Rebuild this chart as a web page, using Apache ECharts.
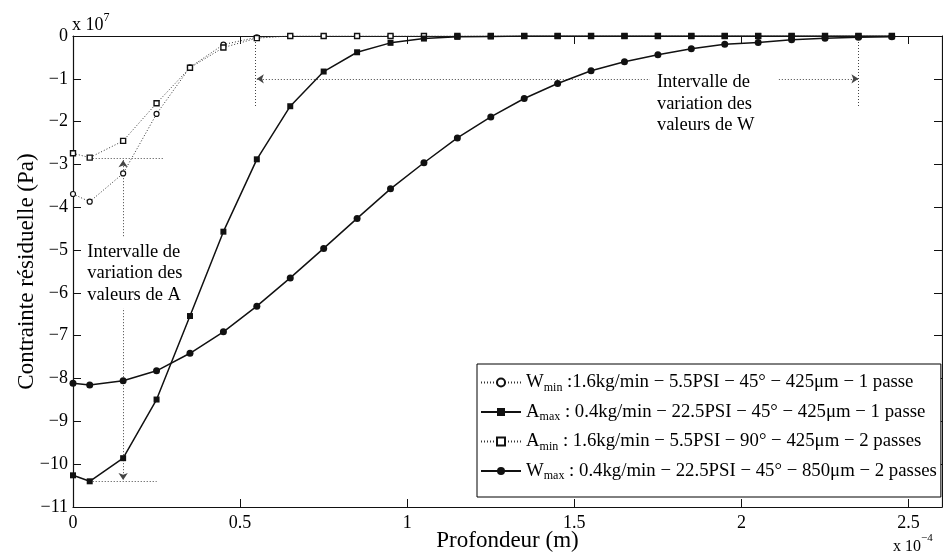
<!DOCTYPE html>
<html>
<head>
<meta charset="utf-8">
<script src="https://cdn.jsdelivr.net/npm/echarts@6/dist/echarts.min.js"></script>
<style>
  html, body { margin: 0; padding: 0; background: #fff; }
  #chart { width: 943px; height: 558px; }
</style>
</head>
<body>
<div id="chart"></div>
<script>
// Depth (x 1e-4 m) and residual stress (x 1e7 Pa)
const depth = [0, 0.05, 0.15, 0.25, 0.35, 0.45, 0.55, 0.65, 0.75, 0.85, 0.95, 1.05, 1.15,
               1.25, 1.35, 1.45, 1.55, 1.65, 1.75, 1.85, 1.95, 2.05, 2.15, 2.25, 2.35, 2.45];

const wMin = [-3.69, -3.87, -3.21, -1.82, -0.73, -0.20, -0.03, 0, 0, 0, 0, 0, 0,
              0, 0, 0, 0, 0, 0, 0, 0, 0, 0, 0, 0, 0];
const aMax = [-10.26, -10.40, -9.86, -8.49, -6.54, -4.57, -2.88, -1.64, -0.83, -0.38, -0.16, -0.06, -0.02,
              -0.01, 0, 0, 0, 0, 0, 0, 0, 0, 0, 0, 0, 0];
const aMin = [-2.74, -2.84, -2.45, -1.57, -0.74, -0.27, -0.05, 0, 0, 0, 0, 0, 0,
              0, 0, 0, 0, 0, 0, 0, 0, 0, 0, 0, 0, 0];
const wMax = [-8.11, -8.15, -8.05, -7.82, -7.41, -6.91, -6.31, -5.65, -4.96, -4.26, -3.57, -2.96, -2.38,
              -1.89, -1.46, -1.11, -0.81, -0.60, -0.44, -0.30, -0.19, -0.15, -0.09, -0.05, -0.03, -0.02];

const seriesNames = ['Wmin', 'Amax', 'Amin', 'Wmax'];
const legendLabels = {
  Wmin: '{m|W}{s|min}{m| :1.6kg/min − 5.5PSI − 45° − 425μm − 1 passe}',
  Amax: '{m|A}{s|max}{m| : 0.4kg/min − 22.5PSI − 45° − 425μm − 1 passe}',
  Amin: '{m|A}{s|min}{m| : 1.6kg/min − 5.5PSI − 90° − 425μm − 2 passes}',
  Wmax: '{m|W}{s|max}{m| : 0.4kg/min − 22.5PSI − 45° − 850μm − 2 passes}'
};

// Range indicators: [start, end] in data units
const aRangeArrow = [[0.15, -2.9], [0.15, -10.37]];
const aRangeTop = [[0.05, -2.85], [0.27, -2.85]];
const aRangeBottom = [[0.05, -10.4], [0.25, -10.4]];
const wRangeArrow = [[0.55, -1.0], [2.35, -1.0]];
const wRangeLeft = [[0.545, 0], [0.545, -1.65]];
const wRangeRight = [[2.35, 0], [2.35, -1.65]];

const aNote = ['Intervalle de', 'variation des', 'valeurs de A'];
const wNote = ['Intervalle de', 'variation des', 'valeurs de W'];
const aNoteAt = [0.025, -4.72];
const wNoteAt = [1.726, -0.79];

const FONT = 'Liberation Serif';
const INK = '#111';

function pairs(ys) { return depth.map((x, i) => [x, ys[i]]); }
function minusLabel(v) { return v === 0 ? '0' : '−' + Math.abs(v); }

const dotted = { type: [1, 2], width: 1, color: '#333' };

function guide(p, arrowStart, arrowEnd) {
  return [
    { coord: p[0], symbol: arrowStart ? 'arrow' : 'none' },
    { coord: p[1], symbol: arrowEnd ? 'arrow' : 'none' }
  ];
}

const chart = echarts.init(document.getElementById('chart'), null, { renderer: 'canvas' });

function axisCommon() {
  return {
    axisLine: { show: true, onZero: false, lineStyle: { color: INK, width: 1.2 } },
    axisTick: { show: true, inside: true, length: 8, lineStyle: { color: INK, width: 1 } },
    splitLine: { show: false }
  };
}

chart.setOption({
  animation: false,
  backgroundColor: '#fff',
  textStyle: { fontFamily: FONT },
  grid: { left: 73, right: 1, top: 36, bottom: 51, containLabel: false, outerBoundsMode: 'none' },
  xAxis: [
    Object.assign({
      type: 'value', min: 0, max: 2.6, interval: 0.5, position: 'bottom',
      name: 'Profondeur (m)', nameLocation: 'middle', nameGap: 22, nameMoveOverlap: false,
      nameTextStyle: { fontFamily: FONT, fontSize: 23, color: '#000' },
      axisLabel: {
        fontFamily: FONT, fontSize: 18, color: '#000', margin: 7, showMaxLabel: false,
        formatter: v => (Math.abs(v * 2 - Math.round(v * 2)) < 1e-6 && v <= 2.5) ? String(v) : ''
      }
    }, axisCommon()),
    Object.assign({
      type: 'value', min: 0, max: 2.6, interval: 0.5, position: 'top',
      axisLabel: { show: false }
    }, axisCommon())
  ],
  yAxis: [
    Object.assign({
      type: 'value', min: -11, max: 0, interval: 1, position: 'left',
      name: 'Contrainte résiduelle (Pa)', nameLocation: 'middle', nameGap: 35, nameMoveOverlap: false,
      nameTextStyle: { fontFamily: FONT, fontSize: 23, color: '#000' },
      axisLabel: { fontFamily: FONT, fontSize: 18, color: '#000', margin: 5, formatter: minusLabel }
    }, axisCommon()),
    Object.assign({
      type: 'value', min: -11, max: 0, interval: 1, position: 'right',
      axisLabel: { show: false }
    }, axisCommon())
  ],
  legend: {
    orient: 'vertical', left: 477, top: 364,
    data: seriesNames,
    formatter: name => legendLabels[name],
    itemWidth: 40, itemHeight: 10, itemGap: 9,
    padding: [9, 4, 15, 3],
    borderColor: '#000', borderWidth: 1, borderRadius: 0,
    backgroundColor: '#fff',
    textStyle: {
      fontFamily: FONT, fontSize: 18.8, color: '#000',
      rich: {
        m: { fontFamily: FONT, fontSize: 18.8, color: '#000', lineHeight: 22 },
        s: { fontFamily: FONT, fontSize: 12, color: '#000', lineHeight: 6, verticalAlign: 'bottom' }
      }
    }
  },
  series: [
    {
      name: 'Wmin', type: 'line', data: pairs(wMin),
      symbol: 'circle', symbolSize: 5,
      itemStyle: { color: '#fff', borderColor: INK, borderWidth: 1.2 },
      lineStyle: dotted, z: 3
    },
    {
      name: 'Amax', type: 'line', data: pairs(aMax),
      symbol: 'rect', symbolSize: 6,
      itemStyle: { color: INK, borderColor: INK, borderWidth: 0 },
      lineStyle: { type: 'solid', width: 1.5, color: INK }, z: 4
    },
    {
      name: 'Amin', type: 'line', data: pairs(aMin),
      symbol: 'rect', symbolSize: 5,
      itemStyle: { color: '#fff', borderColor: INK, borderWidth: 1.4 },
      lineStyle: dotted, z: 3
    },
    {
      name: 'Wmax', type: 'line', data: pairs(wMax),
      symbol: 'circle', symbolSize: 7,
      itemStyle: { color: INK, borderColor: INK, borderWidth: 0 },
      lineStyle: { type: 'solid', width: 1.5, color: INK }, z: 4,
      markLine: {
        silent: true, symbolSize: 7, z: 2,
        label: { show: false },
        lineStyle: { type: [1, 2], width: 1, color: '#444' },
        data: [
          guide(aRangeArrow, true, true),
          guide(aRangeTop, false, false),
          guide(aRangeBottom, false, false),
          guide(wRangeArrow, true, true),
          guide(wRangeLeft, false, false),
          guide(wRangeRight, false, false)
        ]
      }
    }
  ]
});

// Notes and axis multipliers, placed from data coordinates
const aPos = chart.convertToPixel({ gridIndex: 0 }, aNoteAt);
const wPos = chart.convertToPixel({ gridIndex: 0 }, wNoteAt);
const noteStyle = { fontFamily: FONT, fontSize: 18.5, lineHeight: 21.5, fill: '#000', backgroundColor: '#fff' };

chart.setOption({
  graphic: [
    {
      type: 'text', x: aPos[0], y: aPos[1], z: 50,
      style: Object.assign({ text: aNote.join('\n'), padding: [3, 4, 3, 6] }, noteStyle)
    },
    {
      type: 'text', x: wPos[0], y: wPos[1], z: 50,
      style: Object.assign({ text: wNote.join('\n'), padding: [2, 24, 2, 7] }, noteStyle)
    },
    {
      type: 'text', x: 72, y: 12, z: 50,
      style: {
        text: '{a|x 10}{b|7}', fill: '#000',
        rich: {
          a: { fontFamily: FONT, fontSize: 18, lineHeight: 22, verticalAlign: 'bottom' },
          b: { fontFamily: FONT, fontSize: 12, lineHeight: 12, verticalAlign: 'top' }
        }
      }
    },
    {
      type: 'text', x: 893, y: 533, z: 50,
      style: {
        text: '{a|x 10}{b|−4}', fill: '#000',
        rich: {
          a: { fontFamily: FONT, fontSize: 16, lineHeight: 22, verticalAlign: 'bottom' },
          b: { fontFamily: FONT, fontSize: 11, lineHeight: 11, verticalAlign: 'top' }
        }
      }
    }
  ]
});
</script>
</body>
</html>
